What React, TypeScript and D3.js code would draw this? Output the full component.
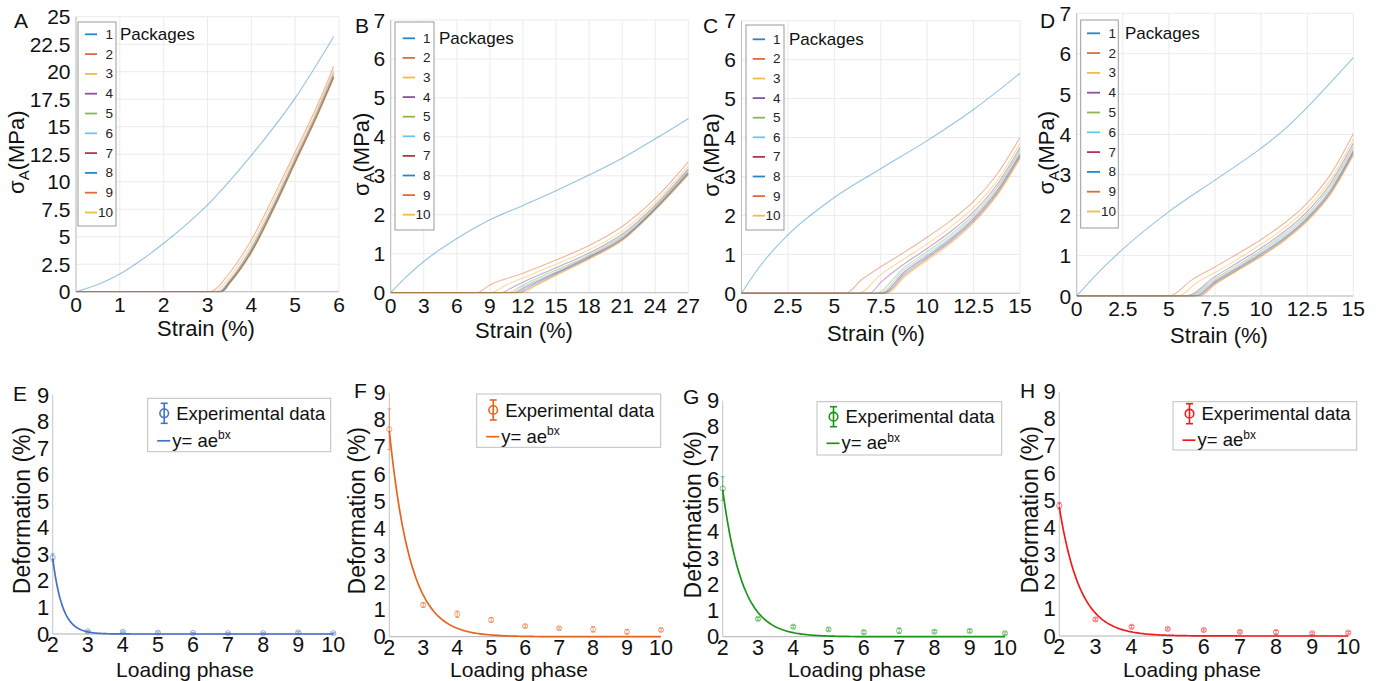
import React from 'react';
import * as d3 from 'd3';

const FONT = "'Liberation Sans', Arial, Helvetica, sans-serif";

// ---------------- legend labels & colours ----------------
const packageLabels = ['1', '2', '3', '4', '5', '6', '7', '8', '9', '10'];
const packageColors = ['#0072BD', '#D95319', '#EDB120', '#7E2F8E', '#77AC30', '#4DBEEE', '#A2142F', '#0072BD', '#D95319', '#EDB120'];

// ---------------- tick values ----------------
const strainTicksA = [0, 1, 2, 3, 4, 5, 6];
const stressTicksA = [0, 2.5, 5, 7.5, 10, 12.5, 15, 17.5, 20, 22.5, 25];
const strainTicksB = [0, 3, 6, 9, 12, 15, 18, 21, 24, 27];
const strainTicksCD = [0, 2.5, 5, 7.5, 10, 12.5, 15];
const stressTicksBCD = [0, 1, 2, 3, 4, 5, 6, 7];
const phaseTicks = [2, 3, 4, 5, 6, 7, 8, 9, 10];
const deformTicks = [0, 1, 2, 3, 4, 5, 6, 7, 8, 9];

// ---------------- panel A: stress-strain per package [strain %, stress MPa] ----------------
const curvesA = [
  [[0, 0], [0.5, 0.65], [1, 1.6], [1.5, 2.9], [2, 4.4], [3, 7.9], [4, 12.4], [5, 17.6], [5.88, 23.2]],
  [[0, 0], [3.05, 0], [3.5, 1.7], [4, 4.7], [4.5, 8.6], [5, 12.7], [5.5, 16.9], [5.88, 20.5]],
  [[0, 0], [3.15, 0], [3.5, 1.3], [4, 4.3], [4.5, 8.2], [5, 12.4], [5.5, 16.6], [5.88, 20.2]],
  [[0, 0], [3.25, 0], [3.5, 1.0], [4, 3.95], [4.5, 7.85], [5, 12.1], [5.5, 16.35], [5.88, 19.9]],
  [[0, 0], [3.28, 0], [3.5, 0.9], [4, 3.8], [4.5, 7.7], [5, 11.95], [5.5, 16.2], [5.88, 19.7]],
  [[0, 0], [3.3, 0], [3.5, 0.85], [4, 3.7], [4.5, 7.6], [5, 11.85], [5.5, 16.1], [5.88, 19.6]],
  [[0, 0], [3.31, 0], [3.5, 0.8], [4, 3.65], [4.5, 7.55], [5, 11.8], [5.5, 16.05], [5.88, 19.55]],
  [[0, 0], [3.32, 0], [3.5, 0.77], [4, 3.6], [4.5, 7.5], [5, 11.75], [5.5, 16.0], [5.88, 19.5]],
  [[0, 0], [3.34, 0], [3.5, 0.73], [4, 3.55], [4.5, 7.45], [5, 11.72], [5.5, 15.97], [5.88, 19.45]],
  [[0, 0], [3.35, 0], [3.5, 0.7], [4, 3.5], [4.5, 7.4], [5, 11.7], [5.5, 15.95], [5.88, 19.4]],
];

// ---------------- panel B ----------------
const curvesB = [
  [[0, 0], [1.5, 0.43], [3, 0.8], [6, 1.39], [9, 1.87], [12, 2.24], [15, 2.62], [18, 3.02], [21, 3.45], [24, 3.95], [27, 4.47]],
  [[0, 0], [7.8, 0], [9, 0.2], [10.5, 0.36], [12, 0.5], [15, 0.84], [18, 1.21], [21, 1.7], [24, 2.42], [27, 3.36]],
  [[0, 0], [9.0, 0], [10.5, 0.2], [12, 0.38], [15, 0.73], [18, 1.1], [21, 1.58], [24, 2.32], [27, 3.25]],
  [[0, 0], [10.0, 0], [11, 0.13], [12, 0.27], [15, 0.64], [18, 1.02], [21, 1.5], [24, 2.25], [27, 3.18]],
  [[0, 0], [10.6, 0], [12, 0.2], [15, 0.58], [18, 0.97], [21, 1.45], [24, 2.21], [27, 3.14]],
  [[0, 0], [11.0, 0], [12, 0.15], [15, 0.54], [18, 0.94], [21, 1.42], [24, 2.18], [27, 3.11]],
  [[0, 0], [11.3, 0], [12, 0.11], [15, 0.51], [18, 0.92], [21, 1.39], [24, 2.16], [27, 3.08]],
  [[0, 0], [11.55, 0], [12.5, 0.14], [15, 0.49], [18, 0.9], [21, 1.37], [24, 2.15], [27, 3.06]],
  [[0, 0], [11.8, 0], [12.5, 0.1], [15, 0.46], [18, 0.88], [21, 1.35], [24, 2.13], [27, 3.04]],
  [[0, 0], [12.0, 0], [13, 0.15], [15, 0.44], [18, 0.86], [21, 1.33], [24, 2.12], [27, 3.02]],
];

// ---------------- panel C ----------------
const curvesC = [
  [[0, 0], [1, 0.7], [2.5, 1.5], [5, 2.46], [7.5, 3.2], [10, 3.92], [12.5, 4.72], [15, 5.65]],
  [[0, 0], [5.6, 0], [6.5, 0.36], [7.5, 0.68], [8.75, 1.05], [10, 1.44], [11.25, 1.86], [12.5, 2.36], [13.75, 3.05], [15, 4.0]],
  [[0, 0], [6.3, 0], [7.5, 0.48], [8.75, 0.88], [10, 1.27], [11.25, 1.7], [12.5, 2.2], [13.75, 2.88], [15, 3.85]],
  [[0, 0], [6.9, 0], [7.5, 0.28], [8.75, 0.75], [10, 1.15], [11.25, 1.58], [12.5, 2.09], [13.75, 2.78], [15, 3.75]],
  [[0, 0], [7.2, 0], [8.75, 0.66], [10, 1.07], [11.25, 1.5], [12.5, 2.02], [13.75, 2.71], [15, 3.68]],
  [[0, 0], [7.4, 0], [8.75, 0.6], [10, 1.01], [11.25, 1.44], [12.5, 1.96], [13.75, 2.66], [15, 3.62]],
  [[0, 0], [7.55, 0], [8.75, 0.54], [10, 0.96], [11.25, 1.39], [12.5, 1.92], [13.75, 2.61], [15, 3.57]],
  [[0, 0], [7.65, 0], [8.75, 0.49], [10, 0.92], [11.25, 1.35], [12.5, 1.87], [13.75, 2.57], [15, 3.53]],
  [[0, 0], [7.75, 0], [8.75, 0.44], [10, 0.88], [11.25, 1.31], [12.5, 1.84], [13.75, 2.53], [15, 3.49]],
  [[0, 0], [7.85, 0], [8.75, 0.4], [10, 0.84], [11.25, 1.27], [12.5, 1.8], [13.75, 2.5], [15, 3.45]],
];

// ---------------- panel D ----------------
const curvesD = [
  [[0, 0], [1, 0.5], [2.5, 1.16], [5, 2.09], [7.5, 2.87], [10, 3.66], [11.25, 4.12], [12.5, 4.67], [13.75, 5.28], [15, 5.9]],
  [[0, 0], [5.0, 0], [6.25, 0.4], [7.5, 0.72], [8.75, 1.05], [10, 1.4], [11.25, 1.8], [12.5, 2.3], [13.75, 3.0], [15, 4.02]],
  [[0, 0], [5.5, 0], [6.5, 0.33], [7.5, 0.58], [8.75, 0.92], [10, 1.28], [11.25, 1.68], [12.5, 2.18], [13.75, 2.87], [15, 3.88]],
  [[0, 0], [5.9, 0], [7.5, 0.48], [8.75, 0.83], [10, 1.19], [11.25, 1.59], [12.5, 2.09], [13.75, 2.78], [15, 3.78]],
  [[0, 0], [6.1, 0], [7.5, 0.43], [8.75, 0.77], [10, 1.13], [11.25, 1.53], [12.5, 2.02], [13.75, 2.71], [15, 3.7]],
  [[0, 0], [6.25, 0], [7.5, 0.39], [8.75, 0.73], [10, 1.09], [11.25, 1.48], [12.5, 1.97], [13.75, 2.65], [15, 3.64]],
  [[0, 0], [6.4, 0], [7.5, 0.36], [8.75, 0.7], [10, 1.05], [11.25, 1.44], [12.5, 1.93], [13.75, 2.6], [15, 3.59]],
  [[0, 0], [6.5, 0], [7.5, 0.33], [8.75, 0.67], [10, 1.02], [11.25, 1.41], [12.5, 1.9], [13.75, 2.56], [15, 3.55]],
  [[0, 0], [6.6, 0], [7.5, 0.3], [8.75, 0.65], [10, 0.99], [11.25, 1.38], [12.5, 1.87], [13.75, 2.53], [15, 3.51]],
  [[0, 0], [6.7, 0], [7.5, 0.28], [8.75, 0.63], [10, 0.97], [11.25, 1.36], [12.5, 1.84], [13.75, 2.5], [15, 3.48]],
];

// ---------------- panels E-H: deformation per loading phase ----------------
const phases = [2, 3, 4, 5, 6, 7, 8, 9, 10];
const deformE = [2.88, 0.1, 0.08, 0.05, 0.04, 0.03, 0.03, 0.06, 0.03];
const errE = [0.14, 0.03, 0.03, 0.03, 0.02, 0.02, 0.02, 0.03, 0.02];
const deformF = [7.65, 1.17, 0.83, 0.62, 0.39, 0.31, 0.27, 0.18, 0.25];
const errF = [0.75, 0.08, 0.12, 0.08, 0.05, 0.04, 0.1, 0.08, 0.05];
const deformG = [5.65, 0.68, 0.38, 0.28, 0.17, 0.23, 0.19, 0.22, 0.13];
const errG = [0.45, 0.05, 0.05, 0.05, 0.06, 0.1, 0.05, 0.05, 0.05];
const deformH = [4.8, 0.61, 0.34, 0.26, 0.22, 0.15, 0.14, 0.1, 0.12];
const errH = [0.12, 0.05, 0.05, 0.04, 0.04, 0.04, 0.07, 0.04, 0.04];
// exponential fit parameters y = a * e^(b x)
const fitE = [3817, -3.6];
const fitF = [186.4, -1.6];
const fitG = [205, -1.8];
const fitH = [151, -1.73];

// ---------------- layout ----------------
const topLayouts = {
  A: { letter: 'A', x0: 76, x1: 339, yT: 16.7, yB: 291.7, lx: 14, ly: 28, ylabX: 24, xlabX: 206, xlabY: 336,
    lg: { bx: 78, by: 22, bw: 38, bh: 204, row0: 34.3, dy: 19.8, l0: 85, l1: 97, numX: 113, pkgX: 120 } },
  B: { letter: 'B', x0: 390.7, x1: 688.3, yT: 20, yB: 292.7, lx: 355, ly: 33, ylabX: 369, xlabX: 524, xlabY: 337.5,
    lg: { bx: 395, by: 22, bw: 39, bh: 208, row0: 38.3, dy: 19.6, l0: 402.7, l1: 415, numX: 430.5, pkgX: 439 } },
  C: { letter: 'C', x0: 741.5, x1: 1020, yT: 20.7, yB: 293.3, lx: 703, ly: 33, ylabX: 719, xlabX: 876, xlabY: 340.5,
    lg: { bx: 746, by: 25, bw: 38, bh: 205, row0: 39.3, dy: 19.6, l0: 752.7, l1: 765, numX: 780.5, pkgX: 789 } },
  D: { letter: 'D', x0: 1076.7, x1: 1353.3, yT: 13.3, yB: 296, lx: 1040, ly: 28, ylabX: 1054, xlabX: 1219, xlabY: 343,
    lg: { bx: 1080.7, by: 20, bw: 37.6, bh: 208, row0: 33.3, dy: 19.8, l0: 1087, l1: 1100, numX: 1116, pkgX: 1125 } },
};

const bottomLayouts = {
  E: { letter: 'E', x0: 52.7, x1: 333.3, yT: 395, yB: 634, lx: 13, ly: 401, ylabX: 29.5, xlabX: 185, color: '#4472C4',
    lg: { bx: 147.7, by: 398.3, bw: 183, bh: 53.4, r1: 15, r2: 42.5 } },
  F: { letter: 'F', x0: 389.3, x1: 661, yT: 392.7, yB: 636.7, lx: 354, ly: 398, ylabX: 365, xlabX: 519, color: '#E6641E',
    lg: { bx: 476.7, by: 394, bw: 184, bh: 53.3, r1: 16, r2: 42.7 } },
  G: { letter: 'G', x0: 722.7, x1: 1005, yT: 400.7, yB: 636.7, lx: 683, ly: 404, ylabX: 701, xlabX: 857, color: '#1A951A',
    lg: { bx: 817, by: 401.7, bw: 184.7, bh: 53.3, r1: 15, r2: 41.6 } },
  H: { letter: 'H', x0: 1059.3, x1: 1348.3, yT: 391.7, yB: 636, lx: 1020, ly: 398, ylabX: 1038, xlabX: 1192, color: '#F01C1C',
    lg: { bx: 1173, by: 401.7, bw: 183.7, bh: 48.3, r1: 12, r2: 38.5 } },
};

function TopPanel({ L, curves, xTicks, yTicks }: any) {
  const x = d3.scaleLinear().domain([xTicks[0], xTicks[xTicks.length - 1]]).range([L.x0, L.x1]);
  const y = d3.scaleLinear().domain([yTicks[0], yTicks[yTicks.length - 1]]).range([L.yB, L.yT]);
  const line = d3.line<any>().x((d: any) => x(d[0])).y((d: any) => y(d[1])).curve(d3.curveMonotoneX);
  const clip = `clip-${L.letter}`;
  const lg = L.lg;
  return (
    <g>
      <defs>
        <clipPath id={clip}>
          <rect x={L.x0} y={L.yT - 1} width={L.x1 - L.x0 + 1} height={L.yB - L.yT + 1.6} />
        </clipPath>
      </defs>
      {xTicks.map((t: number) => (
        <line key={'gx' + t} x1={x(t)} x2={x(t)} y1={L.yT} y2={L.yB} stroke="#ebebeb" strokeWidth={1} />
      ))}
      {yTicks.map((t: number) => (
        <line key={'gy' + t} x1={L.x0} x2={L.x1} y1={y(t)} y2={y(t)} stroke="#ebebeb" strokeWidth={1} />
      ))}
      <line x1={L.x0} x2={L.x0} y1={L.yT} y2={L.yB} stroke="#bdbdbd" />
      <line x1={L.x0} x2={L.x1} y1={L.yB} y2={L.yB} stroke="#bdbdbd" />
      <g clipPath={`url(#${clip})`}>
        {curves.map((c: any, i: number) => (
          <path key={i} d={line(c) || ''} fill="none" stroke={packageColors[i]} strokeOpacity={0.42} strokeWidth={1.1} />
        ))}
      </g>
      {xTicks.map((t: number) => (
        <text key={'tx' + t} x={x(t)} y={L.yB + 20} fontSize={21} textAnchor="middle" fill="#111">{String(t)}</text>
      ))}
      {yTicks.map((t: number) => (
        <text key={'ty' + t} x={L.x0 - 5.5} y={y(t)} fontSize={21} textAnchor="end" dominantBaseline="central" fill="#111">{String(t)}</text>
      ))}
      <text x={L.lx} y={L.ly} fontSize={21} fill="#111">{L.letter}</text>
      <text x={L.xlabX} y={L.xlabY} fontSize={22} textAnchor="middle" fill="#111">Strain (%)</text>
      <text transform={`translate(${L.ylabX},${(L.yT + L.yB) / 2 - 2}) rotate(-90)`} fontSize={22} textAnchor="middle" fill="#111">
        <tspan>σ</tspan>
        <tspan dy={5} fontSize={15}>A</tspan>
        <tspan dy={-5}>(MPa)</tspan>
      </text>
      <rect x={lg.bx} y={lg.by} width={lg.bw} height={lg.bh} fill="#fff" stroke="#9a9a9a" strokeWidth={1} />
      {packageLabels.map((lab, i) => (
        <g key={'lg' + i}>
          <line x1={lg.l0} x2={lg.l1} y1={lg.row0 + i * lg.dy} y2={lg.row0 + i * lg.dy} stroke={packageColors[i]} strokeWidth={1.8} strokeOpacity={0.85} />
          <text x={lg.numX} y={lg.row0 + i * lg.dy} fontSize={13.5} textAnchor="end" dominantBaseline="central" fill="#222">{lab}</text>
        </g>
      ))}
      <text x={lg.pkgX} y={lg.row0} fontSize={17} dominantBaseline="central" fill="#111">Packages</text>
    </g>
  );
}

function BottomPanel({ L, values, errors, fit }: any) {
  const x = d3.scaleLinear().domain([phaseTicks[0], phaseTicks[phaseTicks.length - 1]]).range([L.x0, L.x1]);
  const y = d3.scaleLinear().domain([deformTicks[0], deformTicks[deformTicks.length - 1]]).range([L.yB, L.yT]);
  const xs = d3.range(phaseTicks[0], phaseTicks[phaseTicks.length - 1] + 0.001, 0.04);
  const fitLine = d3.line<number>().x((v) => x(v)).y((v) => y(fit[0] * Math.exp(fit[1] * v)));
  const lg = L.lg;
  const c = L.color;
  const r1 = lg.by + lg.r1;
  const r2 = lg.by + lg.r2;
  const sx = lg.bx + 16.5;
  return (
    <g>
      <line x1={L.x0} x2={L.x0} y1={L.yT} y2={L.yB} stroke="#c4c4c4" />
      <line x1={L.x0} x2={L.x1} y1={L.yB} y2={L.yB} stroke="#b0b0b0" />
      {phases.map((p, i) => {
        const cx = x(p);
        const top = y(values[i] + errors[i]);
        const bot = y(values[i] - errors[i]);
        return (
          <g key={'pt' + i} stroke={c} strokeOpacity={0.55} fill="none" strokeWidth={1}>
            <line x1={cx} x2={cx} y1={top} y2={bot} />
            <line x1={cx - 2} x2={cx + 2} y1={top} y2={top} />
            <line x1={cx - 2} x2={cx + 2} y1={bot} y2={bot} />
            <circle cx={cx} cy={y(values[i])} r={2.6} />
          </g>
        );
      })}
      <path d={fitLine(xs) || ''} fill="none" stroke={c} strokeWidth={1.7} />
      {phaseTicks.map((t) => (
        <text key={'tx' + t} x={x(t)} y={L.yB + 18} fontSize={21.5} textAnchor="middle" fill="#111">{String(t)}</text>
      ))}
      {deformTicks.map((t) => (
        <text key={'ty' + t} x={L.x0 - 3.5} y={y(t)} fontSize={22} textAnchor="end" dominantBaseline="central" fill="#111">{String(t)}</text>
      ))}
      <text x={L.lx} y={L.ly} fontSize={21} fill="#111">{L.letter}</text>
      <text x={L.xlabX} y={677} fontSize={21} textAnchor="middle" fill="#111">Loading phase</text>
      <text transform={`translate(${L.ylabX},${(L.yT + L.yB) / 2 - 4}) rotate(-90)`} fontSize={23} textAnchor="middle" fill="#111">Deformation (%)</text>
      <rect x={lg.bx} y={lg.by} width={lg.bw} height={lg.bh} fill="#fff" stroke="#bfbfbf" strokeWidth={1} />
      <g stroke={c} strokeWidth={1.6} fill="none">
        <line x1={sx} x2={sx} y1={r1 - 10} y2={r1 + 10} />
        <line x1={sx - 3.5} x2={sx + 3.5} y1={r1 - 10} y2={r1 - 10} />
        <line x1={sx - 3.5} x2={sx + 3.5} y1={r1 + 10} y2={r1 + 10} />
        <circle cx={sx} cy={r1} r={4.3} />
      </g>
      <text x={lg.bx + 28.5} y={r1} fontSize={18.5} dominantBaseline="central" fill="#111">Experimental data</text>
      <line x1={lg.bx + 9.5} x2={lg.bx + 22.5} y1={r2} y2={r2} stroke={c} strokeWidth={1.7} />
      <text x={lg.bx + 24.5} y={r2 + 6} fontSize={18.5} fill="#111">
        <tspan>y= ae</tspan>
        <tspan dy={-7.5} fontSize={12}>bx</tspan>
      </text>
    </g>
  );
}

export default function App() {
  return (
    <svg width={1379} height={681} style={{ position: 'absolute', left: 0, top: 0, background: '#fff' }} fontFamily={FONT}>
      <rect x={0} y={0} width={1379} height={681} fill="#fff" />
      <TopPanel L={topLayouts.A} curves={curvesA} xTicks={strainTicksA} yTicks={stressTicksA} />
      <TopPanel L={topLayouts.B} curves={curvesB} xTicks={strainTicksB} yTicks={stressTicksBCD} />
      <TopPanel L={topLayouts.C} curves={curvesC} xTicks={strainTicksCD} yTicks={stressTicksBCD} />
      <TopPanel L={topLayouts.D} curves={curvesD} xTicks={strainTicksCD} yTicks={stressTicksBCD} />
      <BottomPanel L={bottomLayouts.E} values={deformE} errors={errE} fit={fitE} />
      <BottomPanel L={bottomLayouts.F} values={deformF} errors={errF} fit={fitF} />
      <BottomPanel L={bottomLayouts.G} values={deformG} errors={errG} fit={fitG} />
      <BottomPanel L={bottomLayouts.H} values={deformH} errors={errH} fit={fitH} />
    </svg>
  );
}
